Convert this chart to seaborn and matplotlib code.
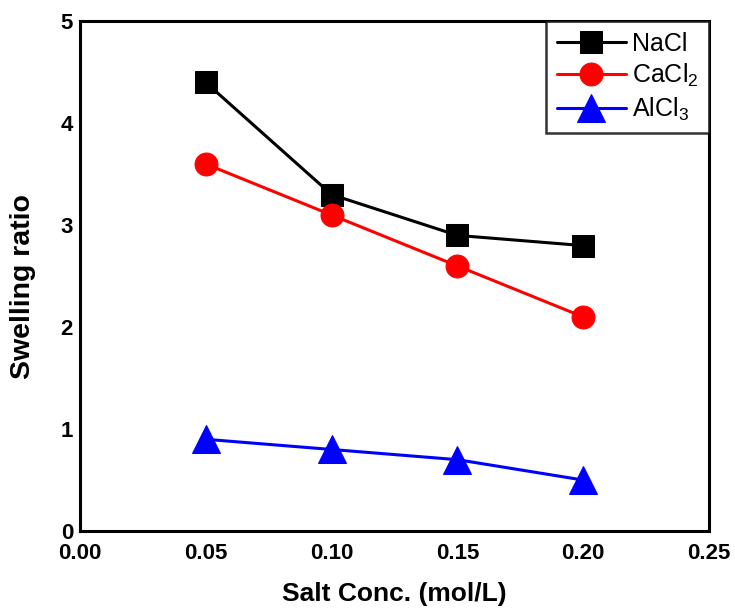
import matplotlib
matplotlib.use("Agg")
import matplotlib.pyplot as plt
import seaborn as sns
import pandas as pd

# Swelling ratio of the gel versus salt concentration
conc = [0.05, 0.10, 0.15, 0.20]
nacl = [4.4, 3.3, 2.9, 2.8]
cacl2 = [3.6, 3.1, 2.6, 2.1]
alcl3 = [0.9, 0.8, 0.7, 0.5]
series_names = ["NaCl", "CaCl$_2$", "AlCl$_3$"]
x_ticks = [0.00, 0.05, 0.10, 0.15, 0.20, 0.25]
y_ticks = [0, 1, 2, 3, 4, 5]

sns.set_style("white")
plt.rcParams["font.family"] = ["Liberation Sans", "DejaVu Sans"]
plt.rcParams["mathtext.fontset"] = "custom"
plt.rcParams["mathtext.rm"] = "Liberation Sans"
for key in ["text.color", "axes.labelcolor", "xtick.color", "ytick.color",
            "axes.edgecolor"]:
    plt.rcParams[key] = "black"

df = pd.DataFrame({
    "conc": conc * 3,
    "ratio": nacl + cacl2 + alcl3,
    "salt": [series_names[0]] * 4 + [series_names[1]] * 4 + [series_names[2]] * 4,
})

fig = plt.figure(figsize=(7.35, 6.09), dpi=100)
ax = fig.add_axes([0.1088, 0.128, 0.856, 0.837])

colors = ["black", "red", "blue"]
markers = ["s", "o", "^"]
sizes = [16, 16.5, 20]
for name, c, m, s in zip(series_names, colors, markers, sizes):
    sub = df[df["salt"] == name]
    sns.lineplot(data=sub, x="conc", y="ratio", ax=ax, color=c, marker=m,
                 markersize=s, markeredgecolor=c, linewidth=2.2, label=name)

ax.set_xlim(0, 0.25)
ax.set_ylim(0, 5)
ax.set_xticks(x_ticks)
ax.set_xticklabels([f"{v:.2f}" for v in x_ticks])
ax.set_yticks(y_ticks)
ax.set_yticklabels([str(v) for v in y_ticks])
ax.tick_params(axis="x", length=0, labelsize=16, pad=8.5, labelcolor="black")
ax.tick_params(axis="y", length=0, labelsize=16, pad=5, labelcolor="black")
for lbl in ax.get_xticklabels() + ax.get_yticklabels():
    lbl.set_fontweight("bold")

ax.set_xlabel("Salt Conc. (mol/L)", fontsize=19, fontweight="bold", color="black")
ax.set_ylabel("Swelling ratio", fontsize=20.5, fontweight="bold", color="black")
ax.xaxis.set_label_coords(0.5, -0.100)
ax.yaxis.set_label_coords(-0.070, 0.48)

for sp in ax.spines.values():
    sp.set_linewidth(2.2)
    sp.set_color("black")

leg = ax.legend(loc="upper right", fontsize=18, frameon=True, fancybox=False,
                edgecolor="black", handlelength=2.75, borderaxespad=0.0,
                labelspacing=0.25, handletextpad=0.25, borderpad=0.42)
leg.get_frame().set_linewidth(1.8)
for t in leg.get_texts():
    t.set_color("black")

fig.savefig("out.png", dpi=100)
